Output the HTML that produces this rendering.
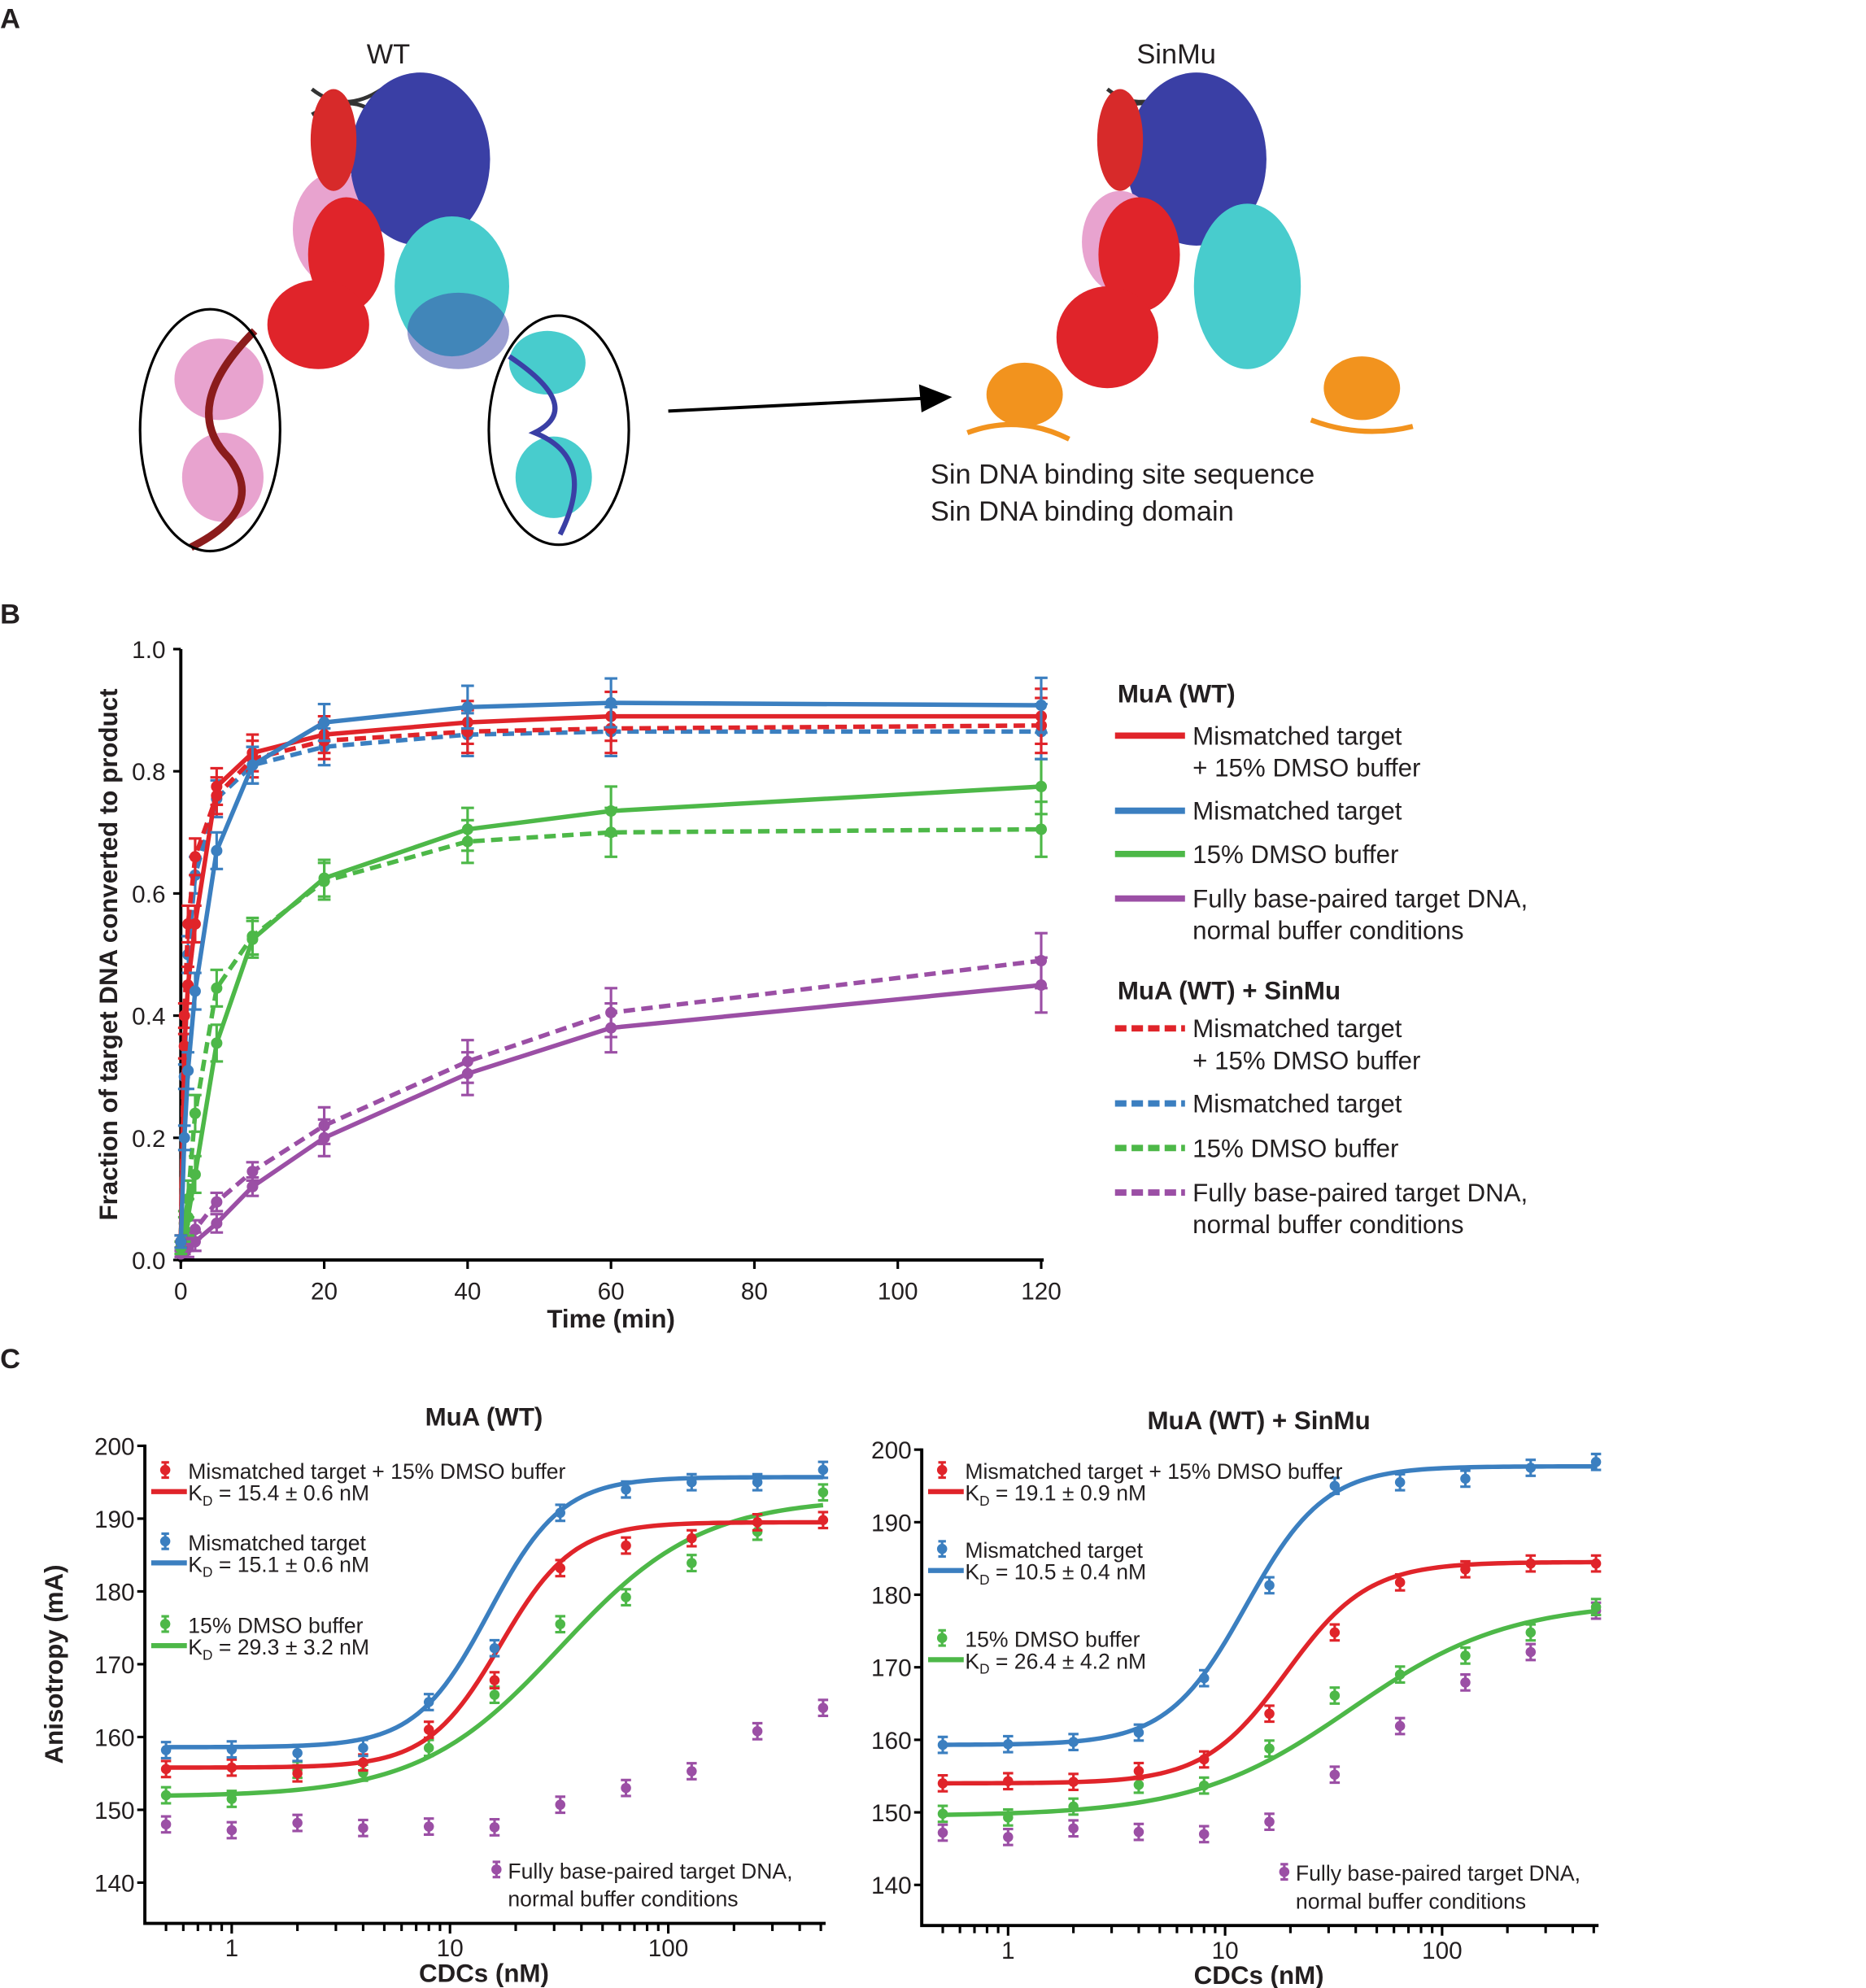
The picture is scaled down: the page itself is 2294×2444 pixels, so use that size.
<!DOCTYPE html>
<html><head><meta charset="utf-8"><style>
html,body{margin:0;padding:0;background:#fff}
svg{display:block}
text{font-family:"Liberation Sans",Arial,sans-serif;fill:#231f20}
</style></head><body>
<svg id="fig" width="2294" height="2444" viewBox="0 0 1466 1562" xmlns="http://www.w3.org/2000/svg">
<g id="panelA">
<text x="0" y="22" font-size="22" font-weight="bold">A</text>
<text x="288" y="50" font-size="22">WT</text>
<text x="893" y="50" font-size="22">SinMu</text>
<g>
<path d="M245 70 Q270 90 300 70 M245 90 Q280 70 300 95" stroke="#333" stroke-width="3" fill="none"/>
<ellipse cx="265" cy="180" rx="35" ry="45" fill="#e8a3cf"/>
<ellipse cx="330" cy="125" rx="55" ry="68" fill="#3a3fa5"/>
<ellipse cx="272" cy="200" rx="30" ry="45" fill="#e0242a"/>
<ellipse cx="262" cy="110" rx="18" ry="40" fill="#d72a2a"/>
<ellipse cx="250" cy="255" rx="40" ry="35" fill="#e0242a"/>
<ellipse cx="355" cy="225" rx="45" ry="55" fill="#48cccd"/>
<ellipse cx="360" cy="260" rx="40" ry="30" fill="#3a3fa5" opacity="0.5"/>
<ellipse cx="172" cy="298" rx="35" ry="32" fill="#e8a3cf"/>
<ellipse cx="175" cy="375" rx="32" ry="35" fill="#e8a3cf"/>
<path d="M200 260 Q140 320 180 360 Q210 400 150 430" stroke="#8b1c1c" stroke-width="6" fill="none"/>
<ellipse cx="430" cy="285" rx="30" ry="25" fill="#48cccd"/>
<ellipse cx="435" cy="375" rx="30" ry="32" fill="#48cccd"/>
<path d="M400 280 Q460 320 420 340 Q470 360 440 420" stroke="#3a3fa5" stroke-width="4" fill="none"/>
<ellipse cx="165" cy="338" rx="55" ry="95" fill="none" stroke="#000" stroke-width="2"/>
<ellipse cx="439" cy="338" rx="55" ry="90" fill="none" stroke="#000" stroke-width="2"/>
</g>
<g>
<line x1="525" y1="323" x2="725" y2="313" stroke="#000" stroke-width="2.5"/>
<polygon points="748,312 722,302 724,324" fill="#000"/>
</g>
<g>
<path d="M870 70 Q895 90 925 70 M870 90 Q905 70 925 95" stroke="#333" stroke-width="3" fill="none"/>
<ellipse cx="940" cy="125" rx="55" ry="68" fill="#3a3fa5"/>
<ellipse cx="880" cy="110" rx="18" ry="40" fill="#d72a2a"/>
<ellipse cx="880" cy="190" rx="30" ry="40" fill="#e8a3cf"/>
<ellipse cx="895" cy="200" rx="32" ry="45" fill="#e0242a"/>
<ellipse cx="870" cy="265" rx="40" ry="40" fill="#e0242a"/>
<ellipse cx="980" cy="225" rx="42" ry="65" fill="#48cccd"/>
<ellipse cx="805" cy="310" rx="30" ry="25" fill="#f2931e"/>
<ellipse cx="1070" cy="305" rx="30" ry="25" fill="#f2931e"/>
<path d="M760 340 Q800 325 840 345" stroke="#f2931e" stroke-width="4" fill="none"/>
<path d="M1030 330 Q1070 345 1110 335" stroke="#f2931e" stroke-width="4" fill="none"/>
</g>
<text x="731" y="380" font-size="22">Sin DNA binding site sequence</text>
<text x="731" y="409" font-size="22">Sin DNA binding domain</text>
</g>
<text x="0" y="490" font-size="22" font-weight="bold">B</text>
<g id="chartB"></g>
<g id="legendB"></g>
<text x="0" y="1075" font-size="22" font-weight="bold">C</text>
<g id="chartC1"></g>
<g id="chartC2"></g>
</svg>
<script>
const NS='http://www.w3.org/2000/svg';
const RED='#e0242a',BLUE='#3b7fc0',GREEN='#4db848',PURPLE='#9b4fa5';
// Panel B data
const timesB=[0,0.5,1,2,5,10,20,40,60,120];
const redSolidB=[0.03,0.35,0.45,0.55,0.775,0.83,0.86,0.88,0.89,0.89];
const blueSolidB=[0.03,0.2,0.31,0.44,0.67,0.81,0.88,0.905,0.912,0.908];
const greenSolidB=[0.02,0.05,0.07,0.14,0.355,0.525,0.625,0.705,0.735,0.775];
const purpleSolidB=[0.01,0.015,0.02,0.03,0.06,0.12,0.2,0.305,0.38,0.45];
const redDashB=[0.03,0.4,0.55,0.66,0.76,0.82,0.85,0.865,0.87,0.875];
const blueDashB=[0.03,0.3,0.5,0.63,0.755,0.81,0.84,0.86,0.865,0.865];
const greenDashB=[0.02,0.06,0.1,0.24,0.445,0.53,0.62,0.685,0.7,0.705];
const purpleDashB=[0.01,0.02,0.03,0.05,0.095,0.145,0.22,0.325,0.405,0.49];
const errB=[0.01,0.02,0.03,0.03,0.03,0.03,0.03,0.035,0.04,0.045];
const xTicksB=[0,20,40,60,80,100,120];
const yTicksB=[0,0.2,0.4,0.6,0.8,1.0];
// Panel C data
const concC=[0.5,1,2,4,8,16,32,64,128,256,512];
const blueC1=[158.2,158.3,157.8,158.5,164.8,172.2,190.8,194,195,195,196.7];
const redC1=[155.6,155.8,155,156.5,161,167.8,183.2,186.3,187.3,189.5,189.8];
const greenC1=[152,151.5,155.5,155.1,158.5,165.8,175.5,179.2,183.9,188.2,193.6];
const purpleC1=[148,147.2,148.2,147.5,147.7,147.6,150.7,153,155.3,160.8,164];
const blueC2=[159.3,159.4,159.7,161,168.5,181.3,195,195.5,196,197.5,198.3];
const redC2=[154,154.3,154.2,155.7,157.3,163.6,174.8,181.7,183.5,184.3,184.3];
const greenC2=[149.8,149.3,150.8,153.8,153.7,158.8,166.1,169,171.6,174.8,178.3];
const purpleC2=[147.2,146.6,147.8,147.3,147,148.7,155.2,161.9,167.9,172.1,177.8];
// fit params: bottom, top, K, n
const fitBlue1=[158.6,195.7,15.1,2.6], fitRed1=[155.8,189.5,17,2.6], fitGreen1=[151.8,192.8,32,1.35];
const fitBlue2=[159.3,197.7,12.5,2.4], fitRed2=[154,184.5,19.1,2.3], fitGreen2=[149.5,179,38,1.2];
const yTicksC=[140,150,160,170,180,190,200];
const xTicksC=[1,10,100];

function el(parent,tag,attrs){const e=document.createElementNS(NS,tag);for(const k in attrs)e.setAttribute(k,attrs[k]);parent.appendChild(e);return e;}
function txt(parent,x,y,s,size,extra){const t=el(parent,'text',Object.assign({x:x,y:y,'font-size':size},extra||{}));t.textContent=s;return t;}

// ---- Panel B ----
(function(){
const g=document.getElementById('chartB');
const X=v=>142+v*(818-142)/120, Y=v=>990-v*480;
const ax=el(g,'path',{d:`M142 510 V992 M140 990 H820`,stroke:'#000','stroke-width':2.5,fill:'none'});

yTicksB.forEach(v=>{el(g,'line',{x1:136,x2:142,y1:Y(v),y2:Y(v),stroke:'#000','stroke-width':2});
 const t=txt(g,130,Y(v)+7,v.toFixed(1),19,{'text-anchor':'end'});});
xTicksB.forEach(v=>{el(g,'line',{x1:X(v),x2:X(v),y1:990,y2:997,stroke:'#000','stroke-width':2});
 const t=txt(g,X(v),1021,String(v),19,{'text-anchor':'middle'});});
const xt=txt(g,480,1043,'Time (min)',20,{'text-anchor':'middle','font-weight':'bold'});

const yt=txt(g,0,0,'Fraction of target DNA converted to product',20,{'text-anchor':'middle','font-weight':'bold',transform:'translate(92 750) rotate(-90)'});

const series=[[purpleDashB,PURPLE,1],[purpleSolidB,PURPLE,0],[greenDashB,GREEN,1],[greenSolidB,GREEN,0],[blueDashB,BLUE,1],[redDashB,RED,1],[redSolidB,RED,0],[blueSolidB,BLUE,0]];
series.forEach(([d,c,dash])=>{
 const s=el(g,'g',{});
 el(s,'polyline',{points:d.map((v,i)=>X(timesB[i])+','+Y(v)).join(' '),fill:'none',stroke:c,'stroke-width':3.5,'stroke-dasharray':dash?'9 5':'none'});
 d.forEach((v,i)=>{const e=errB[i]*480*(c===PURPLE&&i<6?0.5:1);const x=X(timesB[i]),y=Y(v);
  el(s,'path',{d:`M${x} ${y-e}V${y+e}M${x-5} ${y-e}H${x+5}M${x-5} ${y+e}H${x+5}`,stroke:c,'stroke-width':2});
  const p=el(s,'circle',{cx:x,cy:y,r:4.5,fill:c});});
});
// legend
const L=document.getElementById('legendB');
const items=[['h','MuA (WT)',545],['s',RED,578,'Mismatched target','+ 15% DMSO buffer'],['s',BLUE,637,'Mismatched target'],['s',GREEN,671,'15% DMSO buffer'],['s',PURPLE,706,'Fully base-paired target DNA,','normal buffer conditions'],
['h','MuA (WT) + SinMu',778],['d',RED,808,'Mismatched target','+ 15% DMSO buffer'],['d',BLUE,867,'Mismatched target'],['d',GREEN,902,'15% DMSO buffer'],['d',PURPLE,937,'Fully base-paired target DNA,','normal buffer conditions']];
items.forEach(it=>{
 if(it[0]==='h'){const t=txt(L,878,it[2]+7,it[1],20,{'font-weight':'bold'});return;}
 const e=el(L,'g',{});
 el(e,'line',{x1:876,x2:931,y1:it[2],y2:it[2],stroke:it[1],'stroke-width':5,'stroke-dasharray':it[0]==='d'?'9 4':'none'});
 txt(e,937,it[2]+7,it[3],20);
 if(it[4])txt(e,937,it[2]+32,it[4],20);
});
})();

// ---- Panel C ----
function drawC(id,o){
const g=document.getElementById(id);
const X=c=>o.x1+Math.log10(c)*o.dec, Y=v=>o.y200+(200-v)*o.u;
const yb=Y(134.4), xl=X(0.4), xr=X(512);
const ax=el(g,'path',{d:`M${xl} ${Y(200)-1}V${yb}H${xr+2}`,stroke:'#000','stroke-width':2.5,fill:'none'});

yTicksC.forEach(v=>{el(g,'line',{x1:xl-6,x2:xl,y1:Y(v),y2:Y(v),stroke:'#000','stroke-width':2});
 const t=txt(g,xl-8,Y(v)+7,String(v),19,{'text-anchor':'end'});});
[0.5,0.6,0.7,0.8,0.9,1,2,3,4,5,6,7,8,9,10,20,30,40,50,60,70,80,90,100,200,300,400,500].forEach(c=>{
 const major=[1,10,100].includes(c);el(g,'line',{x1:X(c),x2:X(c),y1:yb,y2:yb+(major?8:6),stroke:'#000','stroke-width':2});});
xTicksC.forEach(c=>{const t=txt(g,X(c),yb+26,String(c),19,{'text-anchor':'middle'});});
const xt=txt(g,(xl+xr)/2,yb+46,'CDCs (nM)',20,{'text-anchor':'middle','font-weight':'bold'});
const ti=txt(g,(xl+xr)/2,o.y200-16,o.title,20,{'text-anchor':'middle','font-weight':'bold'});
if(o.ylab){const yt=txt(g,0,0,'Anisotropy (mA)',20,{'text-anchor':'middle','font-weight':'bold',transform:`translate(49 ${Y(170)}) rotate(-90)`});}
o.series.forEach(([d,c,fit])=>{
 const s=el(g,'g',{});
 if(fit){const pts=[];for(let i=0;i<=120;i++){const cc=0.5*Math.pow(1024,i/120);const [b,t,K,n]=fit;const v=b+(t-b)*Math.pow(cc,n)/(Math.pow(K,n)+Math.pow(cc,n));pts.push(X(cc)+','+Y(v));}
  const fl=el(s,'polyline',{points:pts.join(' '),fill:'none',stroke:c,'stroke-width':3.5});}
 d.forEach((v,i)=>{const x=X(concC[i]),y=Y(v),e=1.1*o.u;
  el(s,'path',{d:`M${x} ${y-e}V${y+e}M${x-4} ${y-e}H${x+4}M${x-4} ${y+e}H${x+4}`,stroke:c,'stroke-width':2});
  const p=el(s,'circle',{cx:x,cy:y,r:4,fill:c});});
});
const lx=xl+13;
o.leg.forEach(([c,y,l1,l2])=>{const e=el(g,'g',{});
 el(e,'circle',{cx:lx+3,cy:y,r:4,fill:c});el(e,'path',{d:`M${lx+3} ${y-6}V${y+6}M${lx} ${y-6}H${lx+6}M${lx} ${y+6}H${lx+6}`,stroke:c,'stroke-width':2});
 el(e,'line',{x1:lx-8,x2:lx+20,y1:y+17,y2:y+17,stroke:c,'stroke-width':4});
 txt(e,lx+21,y+7,l1,17);const t=txt(e,lx+21,y+24,'K',17);const ts=el(t,'tspan',{'font-size':11,dy:4});ts.textContent='D';const t2=el(t,'tspan',{dy:-4});t2.textContent=' = '+l2;});
const px=o.px;const e=el(g,'g',{});
el(e,'circle',{cx:px,cy:Y(141.8),r:4,fill:PURPLE});el(e,'path',{d:`M${px} ${Y(141.8)-6}V${Y(141.8)+6}M${px-3} ${Y(141.8)-6}H${px+3}M${px-3} ${Y(141.8)+6}H${px+3}`,stroke:PURPLE,'stroke-width':2});
txt(e,px+9,Y(141.8)+7,'Fully base-paired target DNA,',17);txt(e,px+9,Y(141.8)+29,'normal buffer conditions',17);
}
drawC('chartC1',{x1:182,dec:171.5,y200:1136,u:5.72,title:'MuA (WT)',ylab:true,px:390,
 series:[[purpleC1,PURPLE,null],[greenC1,GREEN,fitGreen1],[redC1,RED,fitRed1],[blueC1,BLUE,fitBlue1]],
 leg:[[RED,1155,'Mismatched target + 15% DMSO buffer','15.4 ± 0.6 nM'],[BLUE,1211,'Mismatched target','15.1 ± 0.6 nM'],[GREEN,1276,'15% DMSO buffer','29.3 ± 3.2 nM']]});
drawC('chartC2',{x1:792,dec:170.5,y200:1139,u:5.7,title:'MuA (WT) + SinMu',ylab:false,px:1009,
 series:[[purpleC2,PURPLE,null],[greenC2,GREEN,fitGreen2],[redC2,RED,fitRed2],[blueC2,BLUE,fitBlue2]],
 leg:[[RED,1155,'Mismatched target + 15% DMSO buffer','19.1 ± 0.9 nM'],[BLUE,1217,'Mismatched target','10.5 ± 0.4 nM'],[GREEN,1287,'15% DMSO buffer','26.4 ± 4.2 nM']]});
</script>
</body></html>
